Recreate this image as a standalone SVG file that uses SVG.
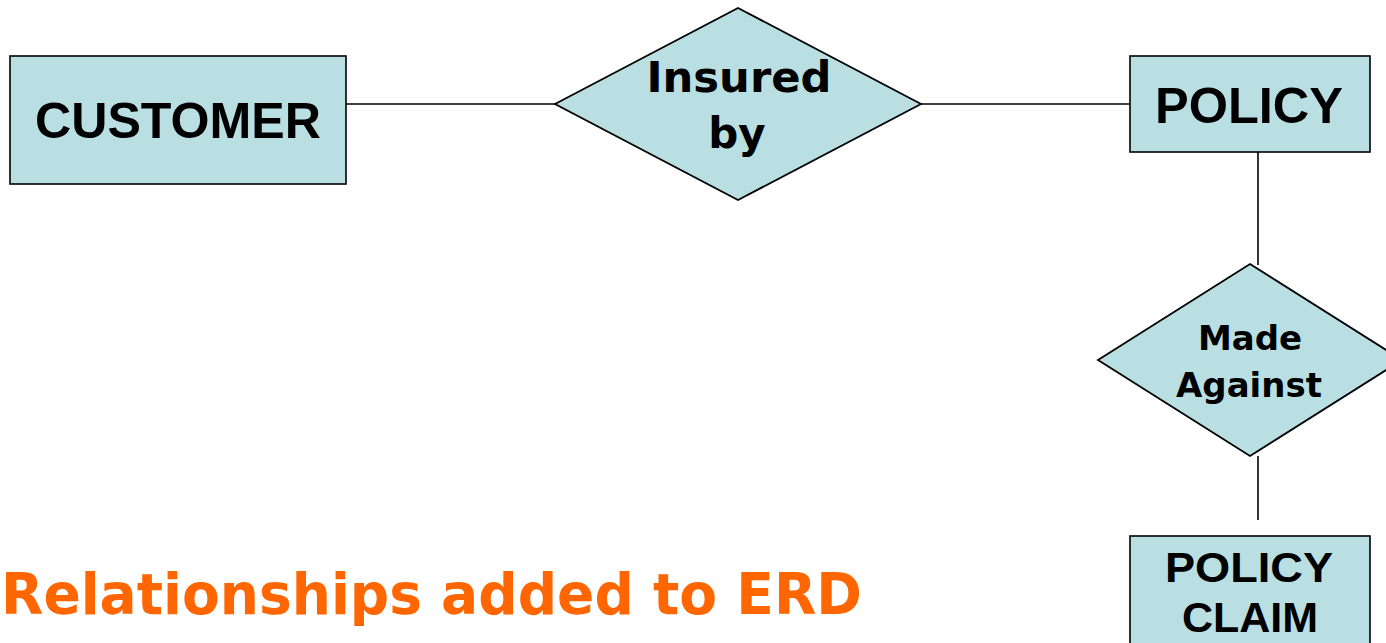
<svg xmlns="http://www.w3.org/2000/svg" width="1386" height="643" viewBox="0 0 1386 643">
<style>
.ent{fill:#B9DFE3;stroke:#000;stroke-width:1.6}
.rel{fill:#B9DFE3;stroke:#000;stroke-width:1.8}
.et{font-family:"Liberation Sans",Arial,sans-serif;font-weight:bold;fill:#000;text-anchor:middle}
.rt{font-family:"DejaVu Sans",Verdana,sans-serif;font-weight:bold;fill:#000;text-anchor:middle}
.conn line{stroke:#000;stroke-width:1.6}
</style>
<rect width="1386" height="643" fill="#fff"/>
<g class="conn" id="connectors">
<line x1="346" y1="104" x2="555" y2="104"/>
<line x1="921" y1="104" x2="1130" y2="104"/>
<line x1="1258" y1="152" x2="1258" y2="265"/>
<line x1="1258" y1="456" x2="1258" y2="520"/>
</g>
<g id="customer">
<rect class="ent" x="10" y="56" width="336" height="128"/>
<text class="et" x="178" y="138" font-size="50" textLength="286" lengthAdjust="spacingAndGlyphs">CUSTOMER</text>
</g>
<g id="insured-by">
<polygon class="rel" points="555,104 738,8 921,104 738,200"/>
<text class="rt" x="739" y="92" font-size="42" textLength="185" lengthAdjust="spacingAndGlyphs">Insured</text>
<text class="rt" x="737" y="148" font-size="42">by</text>
</g>
<g id="policy">
<rect class="ent" x="1130" y="56" width="240" height="96"/>
<text class="et" x="1249" y="123" font-size="50" textLength="188" lengthAdjust="spacingAndGlyphs">POLICY</text>
</g>
<g id="made-against">
<polygon class="rel" points="1250,264 1402,360 1250,456 1098,360"/>
<text class="rt" x="1250" y="350" font-size="34">Made</text>
<text class="rt" x="1249" y="397" font-size="34" textLength="146" lengthAdjust="spacingAndGlyphs">Against</text>
</g>
<g id="policy-claim">
<rect class="ent" x="1130" y="536" width="240" height="120"/>
<text class="et" x="1249" y="582" font-size="43" textLength="168" lengthAdjust="spacingAndGlyphs">POLICY</text>
<text class="et" x="1250" y="632" font-size="43">CLAIM</text>
</g>
<g id="title">
<text x="1" y="614" font-family="DejaVu Sans,Verdana,sans-serif" font-weight="bold" font-size="57" fill="#FF6600" textLength="861" lengthAdjust="spacingAndGlyphs">Relationships added to ERD</text>
</g>
</svg>
